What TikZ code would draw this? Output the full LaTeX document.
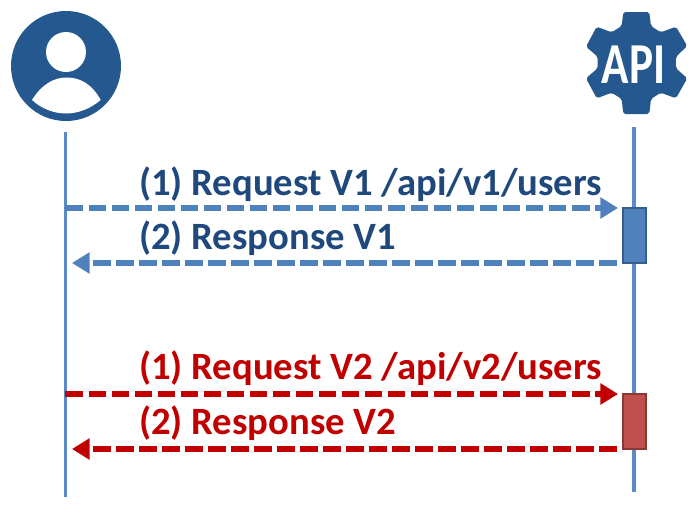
\documentclass[tikz,border=0pt]{standalone}
\usepackage{fontspec}
\setmainfont{Carlito}
\usepackage{tikz}
\usetikzlibrary{arrows.meta}
\definecolor{myiconcolor}{HTML}{25588F}
\definecolor{mylifecolor}{HTML}{5B8BC4}
\definecolor{mybluecolor}{HTML}{4F81BD}
\definecolor{mybluetextcolor}{HTML}{1F497D}
\definecolor{mybluebordercolor}{HTML}{385D8A}
\definecolor{myredcolor}{HTML}{C00000}
\definecolor{myredboxcolor}{HTML}{C0504D}
\definecolor{myredbordercolor}{HTML}{8C3836}
\tikzset{%
  lifeline/.style={draw=mylifecolor, line width=0.9pt},%
  callarrow/.style={line width=1.5pt, dash pattern=on 5pt off 1.55pt, -{Triangle[length=5pt, width=5.8pt]}},%
  callbox/.style={draw, rectangle, line width=0.7pt, minimum width=0.23cm, minimum height=0.55cm, inner sep=0pt},%
  calltext/.style={anchor=base west, inner sep=0pt, font=\fontsize{11pt}{11pt}\selectfont\bfseries},%
}

\begin{document}
\begin{tikzpicture}%
\useasboundingbox (0, 0) rectangle (7, -5.25);%
% user icon
\fill[myiconcolor] (0.66, -0.66) circle (0.55);%
\fill[white] (0.66, -0.52) circle (0.2);%
\fill[white] (0.32, -1.0) .. controls (0.42, -0.84) and (0.54, -0.775) .. (0.667, -0.775) .. controls (0.8, -0.775) and (0.92, -0.84) .. (1.007, -1.0) .. controls (0.9, -1.09) and (0.78, -1.135) .. (0.66, -1.135) .. controls (0.54, -1.135) and (0.42, -1.09) .. (0.32, -1.0) -- cycle;%
% gear icon
\fill[myiconcolor, rounded corners=0.02cm] (6.233, -0.12) -- (6.493, -0.12) -- (6.51, -0.26) -- (6.607, -0.323) -- (6.76, -0.267) -- (6.873, -0.46) -- (6.76, -0.567) -- (6.76, -0.683) -- (6.873, -0.783) -- (6.76, -0.983) -- (6.607, -0.927) -- (6.51, -0.99) -- (6.493, -1.14) -- (6.233, -1.14) -- (6.217, -0.99) -- (6.117, -0.927) -- (5.967, -0.983) -- (5.86, -0.783) -- (5.977, -0.683) -- (5.977, -0.567) -- (5.86, -0.467) -- (5.967, -0.267) -- (6.117, -0.323) -- (6.217, -0.26) -- cycle;%
\node[text=white, inner sep=0pt, xscale=0.78] (apitext) at (6.335, -0.65) {\fontsize{16.5pt}{16.5pt}\selectfont\bfseries API};%
% lifelines
\coordinate (usertop) at (0.655, -1.32);%
\coordinate (userbottom) at (0.655, -4.97);%
\coordinate (apitop) at (6.34, -1.27);%
\coordinate (apibottom) at (6.34, -4.92);%
\draw[lifeline] (usertop) -- (userbottom);%
\draw[lifeline] (apitop) -- (apibottom);%
% activation boxes
\node[callbox, fill=mybluecolor, draw=mybluebordercolor] (boxv1) at (6.345, -2.355) {};%
\node[callbox, fill=myredboxcolor, draw=myredbordercolor] (boxv2) at (6.345, -4.215) {};%
% version 1
\coordinate (userv1req) at (0.655, -2.08);%
\coordinate (apiv1req) at (6.18, -2.08);%
\coordinate (userv1res) at (0.72, -2.63);%
\coordinate (apiv1res) at (6.17, -2.63);%
\draw[callarrow, mybluecolor] (userv1req) -- (apiv1req);%
\draw[callarrow, mybluecolor] (apiv1res) -- (userv1res);%
\node[calltext, text=mybluetextcolor] (reqv1) at (1.385, -1.95) {(1) Request V1 /api/v1/users};%
\node[calltext, text=mybluetextcolor] (resv1) at (1.385, -2.49) {(2) Response V1};%
% version 2
\coordinate (userv2req) at (0.655, -3.94);%
\coordinate (apiv2req) at (6.18, -3.94);%
\coordinate (userv2res) at (0.72, -4.49);%
\coordinate (apiv2res) at (6.17, -4.49);%
\draw[callarrow, myredcolor] (userv2req) -- (apiv2req);%
\draw[callarrow, myredcolor] (apiv2res) -- (userv2res);%
\node[calltext, text=myredcolor] (reqv2) at (1.385, -3.795) {(1) Request V2 /api/v2/users};%
\node[calltext, text=myredcolor] (resv2) at (1.385, -4.345) {(2) Response V2};%
\end{tikzpicture}
\end{document}
